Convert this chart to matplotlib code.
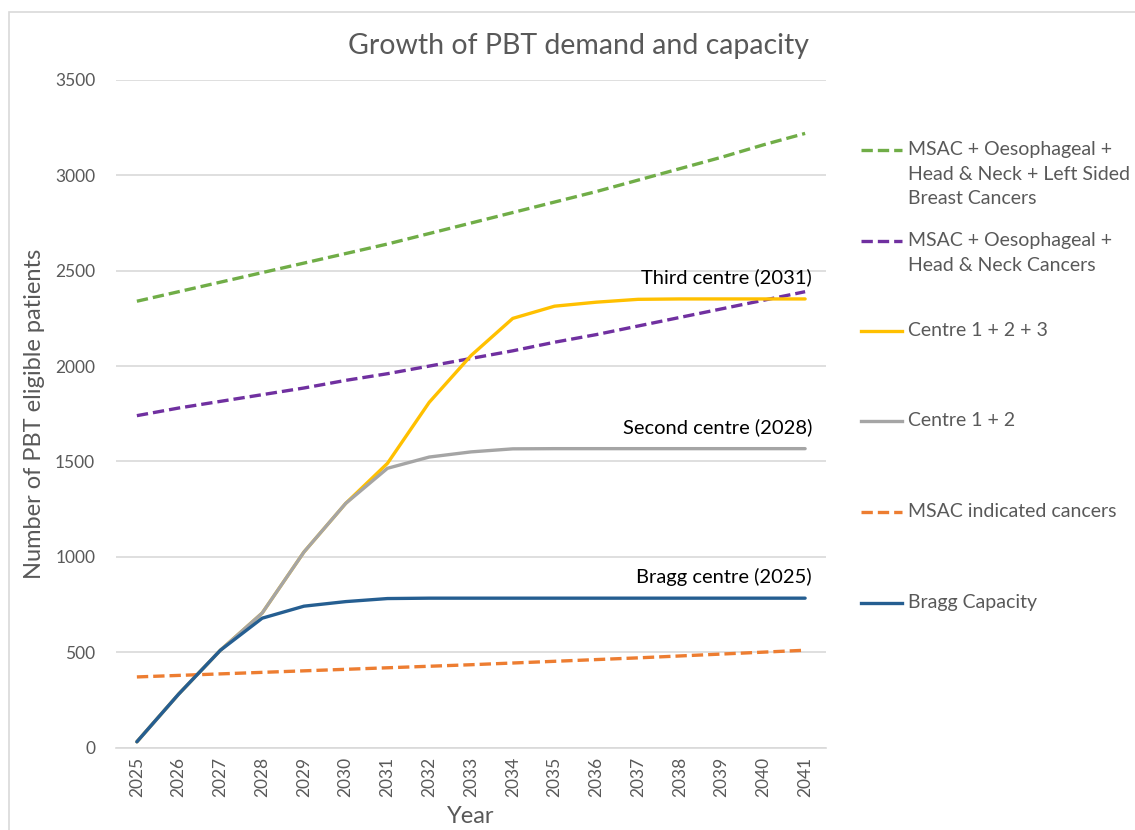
import numpy as np
import matplotlib
matplotlib.use("Agg")
import matplotlib.pyplot as plt
from matplotlib.lines import Line2D
from matplotlib.patches import Rectangle

plt.rcParams['font.family'] = ['Lato', 'DejaVu Sans']

# ---------------- data ----------------
years = list(range(2025, 2042))

msac_oes_hn_breast = [2340, 2390, 2440, 2490, 2540, 2590, 2640, 2695, 2750,
                      2805, 2860, 2915, 2975, 3035, 3095, 3160, 3220]
msac_oes_hn = [1740, 1780, 1815, 1850, 1885, 1925, 1960, 2000, 2040,
               2080, 2125, 2165, 2210, 2255, 2300, 2345, 2390]
centre_123 = [30, 280, 510, 705, 1025, 1280, 1490, 1810, 2055,
              2250, 2314, 2335, 2350, 2352, 2352, 2352, 2352]
centre_12 = [30, 280, 510, 705, 1025, 1280, 1464, 1523, 1550,
             1566, 1567, 1567, 1567, 1567, 1567, 1567, 1567]
msac_indicated = [370, 378, 386, 394, 402, 410, 418, 426, 434,
                  443, 452, 461, 470, 480, 490, 500, 510]
bragg = [30, 280, 510, 678, 741, 765, 781, 783, 783,
         783, 783, 783, 783, 783, 783, 783, 783]

series_labels = [
    "MSAC + Oesophageal +\nHead & Neck + Left Sided\nBreast Cancers",
    "MSAC + Oesophageal +\nHead & Neck Cancers",
    "Centre 1 + 2 + 3",
    "Centre 1 + 2",
    "MSAC indicated cancers",
    "Bragg Capacity",
]
annotations = [("Third centre (2031)", 2041, 2352),
               ("Second centre (2028)", 2041, 1567),
               ("Bragg centre (2025)", 2041, 783)]

# ---------------- plot ----------------
W, H = 1135, 830
fig = plt.figure(figsize=(W / 100, H / 100), dpi=100)
fig.patches.append(Rectangle((9 / W, -0.01), 1.1, 1 - 12.5 / H + 0.01,
                             transform=fig.transFigure, fill=False,
                             ec="#D9D9D9", lw=1.2))

ax = fig.add_axes([116 / W, 1 - 747.5 / H, (826 - 116) / W, (747.5 - 80) / H])

lw = 2.4
dash = (3.4, 1.5)
styles = [
    (msac_oes_hn_breast, "#70AD47", True),
    (msac_oes_hn, "#7030A0", True),
    (centre_123, "#FFC000", False),
    (centre_12, "#A5A5A5", False),
    (msac_indicated, "#ED7D31", True),
    (bragg, "#255E91", False),
]
for vals, col, dashed in styles:
    if dashed:
        ax.plot(years, vals, color=col, lw=lw, ls=(0, dash),
                dash_capstyle="butt", zorder=3)
    else:
        ax.plot(years, vals, color=col, lw=lw, solid_capstyle="round",
                solid_joinstyle="round", zorder=3)

ax.set_xlim(2024.5, 2041.5)
ax.set_ylim(0, 3500)
ax.set_yticks(np.arange(0, 3501, 500))
ax.set_xticks(years)
ax.set_xticklabels([str(y) for y in years], rotation=90)
ax.grid(axis="y", color="#D9D9D9", lw=1.2)
ax.set_axisbelow(True)
for s in ["top", "right", "left"]:
    ax.spines[s].set_visible(False)
ax.spines["bottom"].set_color("#D9D9D9")
ax.spines["bottom"].set_linewidth(1.2)
ax.tick_params(axis="both", length=0, labelsize=12.5, labelcolor="#595959")
ax.tick_params(axis="y", pad=15)
ax.tick_params(axis="x", pad=7)

ax.set_ylabel("Number of PBT eligible patients", fontsize=17, color="#595959", labelpad=7)
ax.set_xlabel("Year", fontsize=17, color="#595959", labelpad=6)

for txt, x, y in annotations:
    ax.annotate(txt, (x, y), xytext=(5, 9), textcoords="offset points",
                ha="right", va="bottom", fontsize=14.5, color="black")

fig.text(578 / W, 1 - 46 / H, "Growth of PBT demand and capacity",
         ha="center", va="center", fontsize=20.5, color="#595959")

# legend drawn by hand to mimic Excel's evenly spread entries
leg_y = [150, 241, 331, 421, 512, 603]
for (vals, col, dashed), lab, yy in zip(styles, series_labels, leg_y):
    yf = 1 - yy / H
    ln = Line2D([861 / W, 902 / W], [yf, yf], transform=fig.transFigure,
                color=col, lw=lw, ls=(0, dash) if dashed else "-")
    fig.lines.append(ln)
    fig.text(908 / W, yf + 9 / H, lab, ha="left", va="top", fontsize=14,
             color="#595959", linespacing=1.55)

fig.savefig("out.png", dpi=100, facecolor="white")
